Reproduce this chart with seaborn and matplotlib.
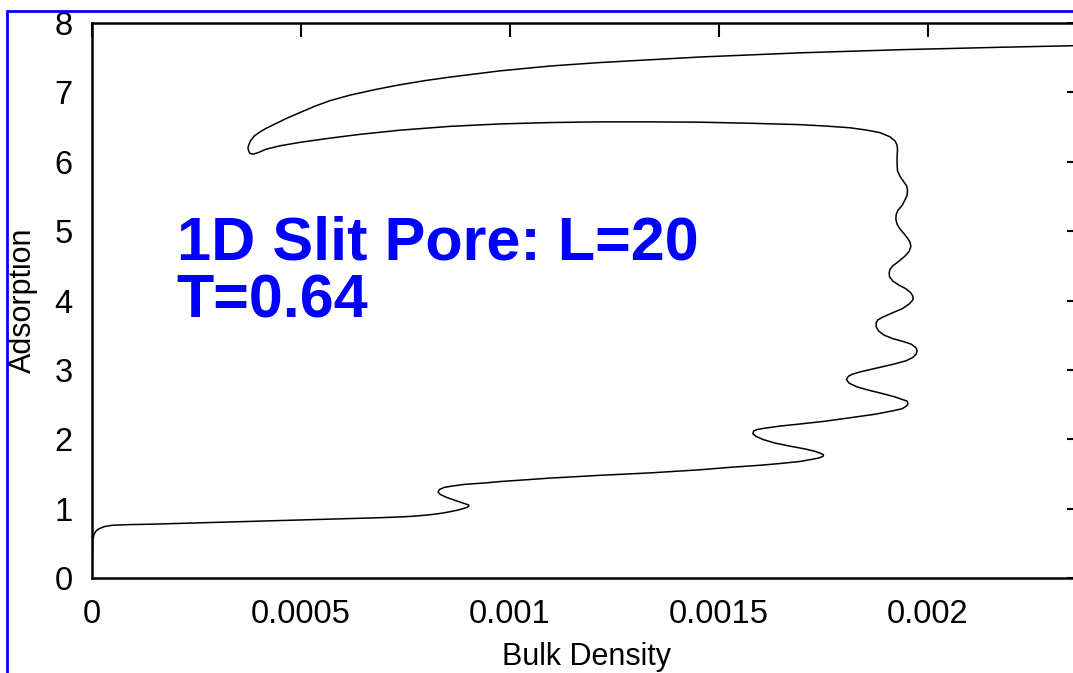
import numpy as np
import matplotlib
matplotlib.use("Agg")
import matplotlib.pyplot as plt
from matplotlib.lines import Line2D
import seaborn as sns

# Adsorption isotherm of a 1D slit pore (L=20, T=0.64), listed in order along the curve.
# Bulk density is given in units of 1e-3.
bulk_density_e3 = [
    0.000, 0.0005, 0.001, 0.002, 0.005, 0.010, 0.017, 0.029, 0.048, 0.091,
    0.139, 0.258, 0.378, 0.498, 0.617, 0.677, 0.737, 0.767, 0.797, 0.820,
    0.840, 0.856, 0.876, 0.888, 0.898, 0.902, 0.900, 0.890, 0.868, 0.847,
    0.833, 0.828, 0.831, 0.842, 0.861, 0.892, 0.940, 0.976, 1.096, 1.215,
    1.335, 1.455, 1.526, 1.598, 1.646, 1.694, 1.722, 1.739, 1.749, 1.750,
    1.744, 1.730, 1.706, 1.670, 1.634, 1.606, 1.589, 1.581, 1.583, 1.591,
    1.610, 1.646, 1.694, 1.754, 1.813, 1.873, 1.916, 1.938, 1.949, 1.952,
    1.950, 1.940, 1.921, 1.890, 1.856, 1.828, 1.811, 1.805, 1.809, 1.818,
    1.837, 1.873, 1.916, 1.947, 1.964, 1.972, 1.974, 1.971, 1.960, 1.940,
    1.916, 1.895, 1.882, 1.876, 1.876, 1.880, 1.892, 1.914, 1.938, 1.955,
    1.964, 1.964, 1.959, 1.947, 1.931, 1.916, 1.908, 1.907, 1.909, 1.916,
    1.931, 1.945, 1.955, 1.959, 1.957, 1.952, 1.943, 1.933, 1.926, 1.923,
    1.924, 1.928, 1.938, 1.945, 1.950, 1.951, 1.949, 1.941, 1.933, 1.927,
    1.926, 1.926, 1.927, 1.926, 1.921, 1.909, 1.885, 1.849, 1.813, 1.754,
    1.694, 1.574, 1.455, 1.335, 1.215, 1.096, 0.976, 0.856, 0.737, 0.641,
    0.569, 0.498, 0.450, 0.416, 0.397, 0.385, 0.378, 0.375, 0.373, 0.375,
    0.379, 0.388, 0.402, 0.416, 0.440, 0.467, 0.498, 0.533, 0.569, 0.617,
    0.677, 0.737, 0.797, 0.856, 0.976, 1.096, 1.215, 1.335, 1.455, 1.694,
    1.933, 2.172, 2.366,
]
adsorption = [
    0.00, 0.19, 0.40, 0.55, 0.63, 0.68, 0.71, 0.74, 0.76, 0.77,
    0.775, 0.795, 0.815, 0.835, 0.855, 0.867, 0.88, 0.89, 0.905, 0.92,
    0.937, 0.955, 0.98, 1.00, 1.02, 1.04, 1.055, 1.075, 1.12, 1.165,
    1.205, 1.24, 1.275, 1.305, 1.325, 1.35, 1.37, 1.39, 1.44, 1.48,
    1.515, 1.56, 1.595, 1.625, 1.65, 1.68, 1.71, 1.73, 1.755, 1.775,
    1.795, 1.825, 1.86, 1.90, 1.945, 1.995, 2.04, 2.08, 2.12, 2.14,
    2.16, 2.19, 2.22, 2.26, 2.31, 2.36, 2.41, 2.44, 2.48, 2.51,
    2.55, 2.57, 2.61, 2.66, 2.71, 2.76, 2.81, 2.86, 2.905, 2.935,
    2.97, 3.02, 3.08, 3.13, 3.18, 3.23, 3.28, 3.32, 3.37, 3.41,
    3.45, 3.50, 3.56, 3.62, 3.68, 3.72, 3.76, 3.82, 3.88, 3.95,
    4.01, 4.06, 4.11, 4.17, 4.22, 4.28, 4.34, 4.40, 4.45, 4.50,
    4.57, 4.64, 4.71, 4.78, 4.84, 4.89, 4.96, 5.03, 5.10, 5.17,
    5.24, 5.30, 5.37, 5.45, 5.52, 5.59, 5.65, 5.72, 5.79, 5.87,
    5.97, 6.07, 6.17, 6.24, 6.30, 6.36, 6.42, 6.46, 6.49, 6.515,
    6.535, 6.555, 6.57, 6.575, 6.575, 6.565, 6.545, 6.51, 6.455, 6.395,
    6.34, 6.28, 6.23, 6.18, 6.13, 6.11, 6.12, 6.15, 6.20, 6.24,
    6.30, 6.37, 6.43, 6.48, 6.55, 6.63, 6.71, 6.80, 6.88, 6.96,
    7.04, 7.11, 7.17, 7.22, 7.31, 7.38, 7.43, 7.47, 7.51, 7.57,
    7.615, 7.65, 7.675,
]
bulk_density = np.array(bulk_density_e3) * 1e-3

x_ticks = [0.0, 0.0005, 0.001, 0.0015, 0.002]
x_tick_labels = ["0", "0.0005", "0.001", "0.0015", "0.002"]
y_ticks = [0, 1, 2, 3, 4, 5, 6, 7, 8]
y_tick_labels = [str(v) for v in y_ticks]

title_lines = ["1D Slit Pore: L=20", "T=0.64"]

sns.set_theme(style="white")
plt.rcParams["font.family"] = ["Liberation Sans", "DejaVu Sans"]

fig = plt.figure(figsize=(10.73, 6.73), dpi=100)
ax = fig.add_axes([92 / 1073, 95 / 673, 989 / 1073, 555 / 673])

sns.lineplot(x=bulk_density, y=adsorption, sort=False, estimator=None,
             color="black", linewidth=1.1, ax=ax)

ax.set_xlim(0, 0.002366)
ax.set_ylim(0, 8)
ax.set_xticks(x_ticks, x_tick_labels)
ax.set_yticks(y_ticks, y_tick_labels)

for side in ["left", "right", "top", "bottom"]:
    ax.spines[side].set_visible(True)
    ax.spines[side].set_color("black")
    ax.spines[side].set_linewidth(1.8)

ax.tick_params(axis="both", which="major", direction="in", length=10, width=1.5,
               top=True, right=True, labelsize=23.5, colors="black")
ax.tick_params(axis="x", pad=15)
ax.tick_params(axis="y", pad=14)

ax.set_xlabel("Bulk Density", fontsize=22, color="black", labelpad=9)
ax.set_ylabel("Adsorption", fontsize=22, color="black", labelpad=12)

ax.text(0.000203, 4.59, title_lines[0], color="blue", fontsize=44,
        fontweight="bold", va="baseline", ha="left")
ax.text(0.000203, 3.76, title_lines[1], color="blue", fontsize=44,
        fontweight="bold", va="baseline", ha="left")

# Blue frame around the plot area
fig.add_artist(Line2D([0.0065, 0.0065], [0.0, 1 - 11 / 673],
                      transform=fig.transFigure, color="blue", linewidth=2))
fig.add_artist(Line2D([0.0065, 1.0], [1 - 11 / 673, 1 - 11 / 673],
                      transform=fig.transFigure, color="blue", linewidth=2))

fig.savefig("out.png", dpi=100)
